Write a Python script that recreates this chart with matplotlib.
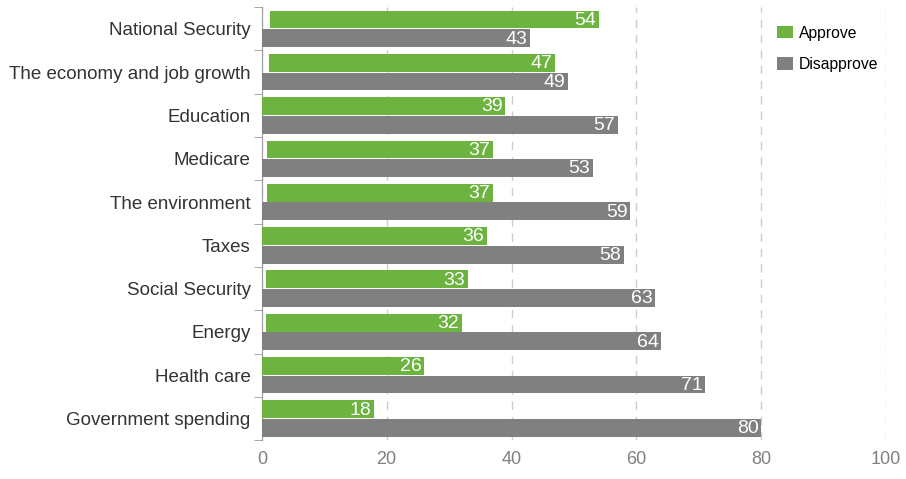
import numpy as np
import matplotlib.pyplot as plt

plt.rcParams['font.family'] = ['Liberation Sans', 'DejaVu Sans']

categories = ["National Security", "The economy and job growth", "Education",
              "Medicare", "The environment", "Taxes", "Social Security",
              "Energy", "Health care", "Government spending"]
approve = [54, 47, 39, 37, 37, 36, 33, 32, 26, 18]
disapprove = [43, 49, 57, 53, 59, 58, 63, 64, 71, 80]
# green bars in the original do not all start exactly at zero
approve_base = [1.3, 1.1, 0, 0.8, 0.8, 0, 0.6, 0.6, 0, 0.1]
xticks = [0, 20, 40, 60, 80, 100]

green = '#6cb33f'
grey = '#808080'

fig = plt.figure(figsize=(9.06, 4.79), dpi=100)
ax = fig.add_axes([0.289, 0.081, 0.689, 0.904])

y = np.arange(len(categories))
h = 0.41
off = 0.215
appr_w = np.array(approve) - np.array(approve_base)
ax.barh(y - off, appr_w, left=approve_base, height=h, color=green, label='Approve', zorder=3)
ax.barh(y + off, disapprove, height=h, color=grey, label='Disapprove', zorder=3)

for i in range(len(categories)):
    ax.text(approve[i] - 0.4, y[i] - off + 0.02, str(approve[i]), color='white',
            ha='right', va='center', fontsize=14, zorder=4)
    ax.text(disapprove[i] - 0.4, y[i] + off + 0.02, str(disapprove[i]), color='white',
            ha='right', va='center', fontsize=14, zorder=4)

ax.set_xlim(0, 100)
ax.set_ylim(len(categories) - 0.5, -0.5)
ax.set_xticks(xticks)
ax.set_xticklabels([str(t) for t in xticks], color='#808080', fontsize=13)
ax.tick_params(axis='x', length=0, pad=8)

ax.set_yticks(y)
ax.set_yticklabels(categories, fontsize=13.5, color='#333333')
ax.tick_params(axis='y', which='major', length=0, pad=8)
ax.set_yticks(np.arange(-0.5, len(categories), 1), minor=True)
ax.tick_params(axis='y', which='minor', length=6, color='#999999', direction='out')

ax.xaxis.grid(True, linestyle=(0, (6, 5)), color='#cccccc', linewidth=1, zorder=0)
for s in ['top', 'right', 'bottom']:
    ax.spines[s].set_visible(False)
ax.spines['left'].set_color('#999999')

ax.legend(loc='upper left', bbox_to_anchor=(0.803, 0.99), frameon=False, fontsize=11.3,
          handlelength=1.0, handleheight=0.85, labelspacing=1.05, handletextpad=0.4)

fig.savefig('out.png', dpi=100)
